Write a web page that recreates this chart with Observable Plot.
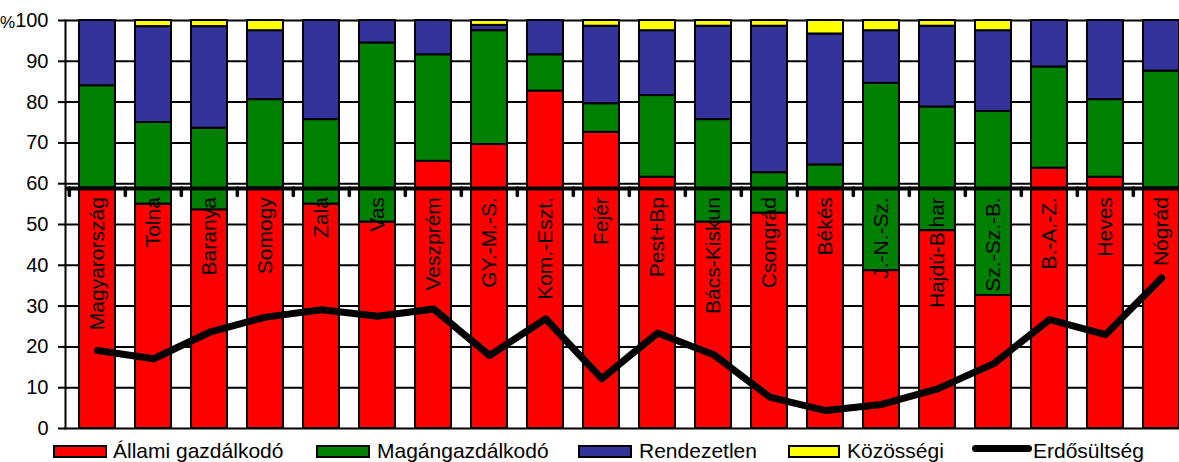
<!DOCTYPE html>
<html>
<head>
<meta charset="utf-8">
<script src="https://cdn.jsdelivr.net/npm/d3@7"></script>
<script src="https://cdn.jsdelivr.net/npm/@observablehq/plot@0.6"></script>
<style>
html,body{margin:0;padding:0;background:#fff;overflow:hidden;width:1179px;height:462px;}
#wrap{position:relative;width:1179px;height:462px;overflow:hidden;font-family:"Liberation Sans",Arial,sans-serif;color:#000;}
#chart svg{display:block;}
.lbl{position:absolute;font-size:21px;line-height:21px;white-space:nowrap;}
.sw{position:absolute;box-sizing:border-box;border:2px solid #000;height:13px;top:445px;}
.lsw{position:absolute;background:#000;height:7px;border-radius:3.5px;top:445px;}
</style>
</head>
<body>
<div id="wrap">
  <div id="chart"></div>
  <span class="lbl" style="left:0px;top:14px;font-size:17px;line-height:17px;">%</span>
  <div id="legend"></div>
</div>
<script>
const categories = ["Magyarország","Tolna","Baranya","Somogy","Zala","Vas","Veszprém","GY.-M.-S.","Kom.-Eszt.","Fejér","Pest+Bp","Bács-Kiskun","Csongrád","Békés","J.-N.-Sz.","Hajdú-Bihar","Sz.-Sz.-B.","B.-A.-Z.","Heves","Nógrád"];
const allami      = [59, 55, 53.6, 59, 55, 50.6, 65.5, 69.6, 82.7, 72.6, 61.6, 50.6, 52.8, 59, 38.7, 48.5, 32.6, 63.8, 61.6, 59];
const magan       = [25, 20, 20, 21.6, 20.7, 43.9, 26.1, 27.9, 8.9, 7, 20, 25.1, 9.9, 5.6, 45.9, 30.3, 45.1, 24.8, 19, 28.6];
const rendezetlen = [16, 23.5, 24.9, 16.9, 24.3, 5.5, 8.4, 1.3, 8.4, 19, 15.9, 22.9, 35.9, 32.1, 12.9, 19.8, 19.8, 11.4, 19.4, 12.4];
const kozossegi   = [0, 1.5, 1.5, 2.5, 0, 0, 0, 1.2, 0, 1.4, 2.5, 1.4, 1.4, 3.3, 2.5, 1.4, 2.5, 0, 0, 0];
const erdosultseg = [19.1, 17.1, 23.6, 27.3, 29.1, 27.5, 29.3, 17.9, 26.9, 12.2, 23.4, 18.1, 7.7, 4.4, 5.9, 9.7, 15.9, 26.7, 23.0, 36.9];
const seriesNames = ["Állami gazdálkodó","Magángazdálkodó","Rendezetlen","Közösségi"];
const seriesColors = ["#ff0000","#008000","#333399","#ffff00"];
const lineName = "Erdősültség";
const yTicks = [0,10,20,30,40,50,60,70,80,90,100];
const breakValue = 58.8;
const labelValue = 56.7;

const seriesArrays = [allami, magan, rendezetlen, kozossegi];
const rows = [];
categories.forEach((c, i) => seriesArrays.forEach((arr, j) => rows.push({cat: c, series: seriesNames[j], value: arr[i]})));
const lineData = categories.map((c, i) => ({cat: c, value: erdosultseg[i]}));

const W = 1179, H = 462, ML = 65, MR = 0, MT = 20, MB = 34;
const xRange = [65, 1192];
const step = (xRange[1] - xRange[0]) / categories.length;

const chart = Plot.plot({
  width: W, height: H,
  marginLeft: ML, marginRight: MR, marginTop: MT, marginBottom: MB,
  style: {fontFamily: '"Liberation Sans", Arial, sans-serif', color: "#000", background: "transparent"},
  x: {domain: categories, range: xRange, paddingInner: 0.36, paddingOuter: 0.18, axis: null},
  y: {domain: [0, 100]},
  color: {domain: seriesNames, range: seriesColors},
  marks: [
    Plot.ruleY(yTicks, {stroke: "#000", strokeWidth: 2}),
    Plot.barY(rows, {x: "cat", y: "value", fill: "series", stroke: "#000", strokeWidth: 2}),
    Plot.ruleY([breakValue], {stroke: "#000", strokeWidth: 4}),
    Plot.ruleX(categories, {x: d => d, y1: breakValue, y2: breakValue - 1.8, dx: -step / 2, stroke: "#000", strokeWidth: 3.5, strokeLinecap: "round"}),
    Plot.axisY({ticks: yTicks, tickSize: 7, tickPadding: 10, fontSize: 20, label: null, strokeWidth: 2}),
    Plot.frame({anchor: "left", stroke: "#000", strokeWidth: 2}),
    Plot.text(categories, {x: d => d, y: labelValue, text: d => d, rotate: -90, textAnchor: "end", lineAnchor: "middle", fontSize: 21, fill: "#000"}),
    Plot.line(lineData, {x: "cat", y: "value", stroke: "#000", strokeWidth: 7, strokeLinejoin: "round", strokeLinecap: "round"})
  ]
});
document.getElementById("chart").appendChild(chart);

// legend
const legend = document.getElementById("legend");
legend.style.position = "absolute";
legend.style.left = "0";
legend.style.top = "0";
const legendPos = [{sw: 53, w: 54, tx: 113}, {sw: 316, w: 54, tx: 377}, {sw: 578, w: 54, tx: 639}, {sw: 788, w: 52, tx: 847}];
seriesNames.forEach((n, i) => {
  const s = document.createElement("div");
  s.className = "sw";
  s.style.left = legendPos[i].sw + "px";
  s.style.width = legendPos[i].w + "px";
  s.style.background = seriesColors[i];
  legend.appendChild(s);
  const t = document.createElement("span");
  t.className = "lbl";
  t.style.left = legendPos[i].tx + "px";
  t.style.top = "440px";
  t.textContent = n;
  legend.appendChild(t);
});
const ls = document.createElement("div");
ls.className = "lsw";
ls.style.left = "972px";
ls.style.width = "60px";
legend.appendChild(ls);
const lt = document.createElement("span");
lt.className = "lbl";
lt.style.left = "1033px";
lt.style.top = "440px";
lt.textContent = lineName;
legend.appendChild(lt);
</script>
</body>
</html>
